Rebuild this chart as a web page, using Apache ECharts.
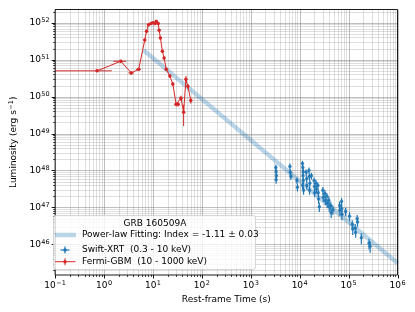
<!DOCTYPE html>
<html><head><meta charset="utf-8">
<script src="https://cdn.jsdelivr.net/npm/echarts@6/dist/echarts.min.js"></script>
<style>html,body{margin:0;padding:0;background:#fff}#c{width:415px;height:312px}</style>
</head><body><div id="c"></div>
<script>
// ---- axis ticks (log10 units) ----
const xMajorTicks = [-1, 0, 1, 2, 3, 4, 5, 6];
const yMajorTicks = [46, 47, 48, 49, 50, 51, 52];
const minorMultipliers = [2, 3, 4, 5, 6, 7, 8, 9];

// ---- Fermi-GBM (10 - 1000 keV) ----
const gbmT    = [0.72, 2.2, 3.6, 5.1, 6.8, 7.4, 8.1, 9.1, 10.0, 11.0, 11.7, 12.8, 13.4, 14.2, 15.6, 16.9, 18.7, 22.2, 25.5, 29.8, 32.7, 37.4, 42.4, 47.2, 51.8, 59.4];
const gbmTErr = [0.72, 0.65, 0.45, 0.6, 0.3, 0.3, 0.3, 0.3, 0.4, 0.4, 0.4, 0.4, 0.4, 0.4, 0.5, 0.6, 0.8, 1.2, 1.3, 2.5, 2.5, 2.5, 2.5, 2.0, 2.0, 2.5];
const gbmL    = [5.0e50, 9.1e50, 4.4e50, 5.5e50, 3.4e51, 5.9e51, 8.9e51, 9.5e51, 1.0e52, 9.5e51, 1.1e52, 9.5e51, 6.3e51, 3.9e51, 1.7e51, 1.12e51, 5.5e50, 3.6e50, 2.2e50, 6.2e49, 6.2e49, 9.1e49, 3.8e49, 2.95e50, 1.9e50, 7.9e49];
const gbmLErr = [0.4e50, 0.9e50, 0.5e50, 0.5e50, 0.3e51, 0.4e51, 0.5e51, 0.5e51, 0.5e51, 0.5e51, 0.6e51, 0.5e51, 0.4e51, 0.3e51, 0.15e51, 0.1e51, 0.6e50, 0.4e50, 0.3e50, 0.8e49, 0.8e49, 1.5e49, 2.2e49, 0.7e50, 0.3e50, 1.4e49];

// ---- Swift-XRT (0.3 - 10 keV) ----
const xrtT = [3250, 3300, 3350, 3300, 6300, 6450, 6600, 8800, 9000,
  11400, 11600, 11800, 11700, 11900, 11500, 12000, 13600, 13900, 14000,
  15500, 15800, 16100, 15900, 17400, 19700, 20000, 20200, 21600, 22000,
  23600, 24000, 24300, 25200, 29800, 30400, 32800, 33400, 36000, 36600,
  39500, 40200, 43300, 44000, 47800, 65500, 66500, 71800, 72500, 73200,
  87000, 104500, 119000, 121500, 137000, 139500, 150000, 152500, 182000, 262000, 276000];
const xrtTErr = [130, 130, 130, 130, 250, 260, 260, 350, 360,
  450, 460, 470, 470, 480, 460, 480, 540, 560, 560,
  620, 630, 640, 640, 700, 790, 800, 810, 860, 880,
  940, 960, 970, 1000, 1190, 1220, 1310, 1340, 1440, 1460,
  1580, 1610, 1730, 1760, 1910, 2600, 2660, 2870, 2900, 2930,
  3500, 4200, 4800, 4900, 5500, 5600, 6000, 6100, 7300, 10500, 11000];
const xrtL = [1.20e48, 9.3e47, 7.2e47, 5.6e47, 1.29e48, 8.9e47, 6.9e47, 5.4e47, 3.5e47,
  1.55e48, 1.2e48, 9.3e47, 7.2e47, 5.4e47, 3.9e47, 2.9e47, 8.9e47, 6.0e47, 3.9e47,
  1.0e48, 6.9e47, 4.5e47, 2.9e47, 7.2e47, 5.4e47, 3.7e47, 2.5e47, 4.5e47, 3.1e47,
  3.9e47, 2.5e47, 1.7e47, 1.05e47, 2.9e47, 1.9e47, 2.4e47, 1.55e47, 2.0e47, 1.3e47,
  1.55e47, 1.05e47, 1.12e47, 7.2e46, 8.7e46, 1.12e47, 8.3e46, 1.45e47, 9.3e46, 6.5e46,
  7.8e46, 5.8e46, 3.5e46, 2.6e46, 2.75e46, 2.1e46, 5.0e46, 4.0e46, 1.5e46, 1.07e46, 8.9e45];
const xrtLErr = [2.4e47, 1.9e47, 1.5e47, 1.2e47, 2.6e47, 1.8e47, 1.4e47, 1.1e47, 0.8e47,
  3.0e47, 2.4e47, 1.9e47, 1.5e47, 1.1e47, 0.8e47, 0.7e47, 1.8e47, 1.3e47, 0.9e47,
  2.0e47, 1.4e47, 1.0e47, 0.7e47, 1.5e47, 1.1e47, 0.8e47, 0.6e47, 1.0e47, 0.7e47,
  0.8e47, 0.6e47, 0.45e47, 0.3e47, 0.7e47, 0.5e47, 0.55e47, 0.4e47, 0.45e47, 0.35e47,
  0.4e47, 0.3e47, 0.3e47, 0.2e47, 0.25e47, 0.3e47, 0.25e47, 0.35e47, 0.25e47, 0.2e47,
  0.2e47, 1.6e46, 1.0e46, 0.8e46, 0.8e46, 0.6e46, 1.2e46, 1.0e46, 0.5e46, 0.35e46, 0.3e46];

// ---- power-law fit ----
const fitT = [6.4, 1.0e6];
const fitL = [1.82e51, 3.1e45];

const X_MIN = -1, X_MAX = 6, Y_MIN = 45.17, Y_MAX = 52.36;
const lg = Math.log10;
const FONT = '"DejaVu Sans", sans-serif';

function safeLg(v) { return v > 0 ? lg(v) : -20; }
function errData(T, TE, L, LE) {
  return T.map((t, i) => [lg(t), lg(L[i]), safeLg(t - TE[i]), lg(t + TE[i]), safeLg(L[i] - LE[i]), lg(L[i] + LE[i])]);
}

// grid lines + ticks
const gridItems = [];
xMajorTicks.forEach(v => gridItems.push([v, Y_MIN, 0, 1]));
for (let d = X_MIN; d < X_MAX; d++) minorMultipliers.forEach(m => gridItems.push([d + lg(m), Y_MIN, 0, 0]));
yMajorTicks.forEach(v => gridItems.push([X_MIN, v, 1, 1]));
for (let d = 45; d < 53; d++) minorMultipliers.forEach(m => { const v = d + lg(m); if (v > Y_MIN && v < Y_MAX) gridItems.push([X_MIN, v, 1, 0]); });

function renderGrid(params, api) {
  const cs = params.coordSys;
  const kind = api.value(2), major = api.value(3);
  let shape, tick;
  if (kind === 0) {
    const px = Math.round(api.coord([api.value(0), Y_MIN])[0]) + 0.5;
    const yb = cs.y + cs.height;
    shape = { x1: px, y1: cs.y, x2: px, y2: yb };
    tick = { x1: px, y1: yb, x2: px, y2: yb + (major ? 3.5 : 2) };
  } else {
    const py = Math.round(api.coord([X_MIN, api.value(1)])[1]) + 0.5;
    shape = { x1: cs.x, y1: py, x2: cs.x + cs.width, y2: py };
    tick = { x1: cs.x - (major ? 3.5 : 2), y1: py, x2: cs.x, y2: py };
  }
  return { type: 'group', children: [
    { type: 'line', shape: shape, style: { stroke: major ? 'rgba(128,128,128,0.5)' : 'rgba(128,128,128,0.32)', lineWidth: major ? 1 : 0.8 } },
    { type: 'line', shape: tick, style: { stroke: '#000', lineWidth: major ? 0.9 : 0.7 } }
  ] };
}

function renderErr(color, lw) {
  return function (params, api) {
    const c = api.coord([api.value(0), api.value(1)]);
    const xl = api.coord([api.value(2), api.value(1)]), xh = api.coord([api.value(3), api.value(1)]);
    const yl = api.coord([api.value(0), api.value(4)]), yh = api.coord([api.value(0), api.value(5)]);
    return { type: 'group', children: [
      { type: 'line', shape: { x1: xl[0], y1: c[1], x2: xh[0], y2: c[1] }, style: { stroke: color, lineWidth: lw } },
      { type: 'line', shape: { x1: c[0], y1: yl[1], x2: c[0], y2: yh[1] }, style: { stroke: color, lineWidth: lw } }
    ] };
  };
}

function supLabel(v) {
  const e = v < 0 ? '\u2212' + (-v) : String(v);
  return '{b|10}{s|' + e + '}';
}
const rich = {
  b: { fontSize: 9, fontFamily: FONT, color: '#000', lineHeight: 12, verticalAlign: 'middle' },
  s: { fontSize: 6.5, fontFamily: FONT, color: '#000', lineHeight: 6, verticalAlign: 'top', padding: [0, 0, 0, 0.5] }
};

const BLUE = '#1f77b4', RED = '#d62728';
const chart = echarts.init(document.getElementById('c'));
chart.setOption({
  animation: false,
  backgroundColor: '#fff',
  grid: { left: 49, top: 9.5, right: 17.5, bottom: 37, show: true, borderColor: '#000', borderWidth: 0.9, backgroundColor: 'transparent', z: 10 },
  xAxis: {
    type: 'value', min: X_MIN, max: X_MAX, interval: 1,
    name: 'Rest-frame Time (s)', nameLocation: 'middle', nameGap: 18,
    nameTextStyle: { fontSize: 9, fontFamily: FONT, color: '#000' },
    axisLine: { show: false }, axisTick: { show: false }, splitLine: { show: false },
    axisLabel: { margin: 5, formatter: supLabel, rich: rich }
  },
  yAxis: {
    type: 'value', min: Y_MIN, max: Y_MAX,
    name: '{b|Luminosity (erg s}{s|\u22121}{b|)}', nameLocation: 'middle', nameGap: 31,
    nameTextStyle: { rich: rich },
    axisLine: { show: false }, axisTick: { show: false }, splitLine: { show: false },
    axisLabel: { margin: 5.5, customValues: yMajorTicks, formatter: supLabel, rich: rich }
  },
  series: [
    { type: 'custom', name: 'grid', renderItem: renderGrid, data: gridItems, clip: false, silent: true, z: 1 },
    { type: 'line', name: 'Power-law Fitting', data: fitT.map((t, i) => [lg(t), lg(fitL[i])]), symbol: 'none',
      lineStyle: { color: BLUE, opacity: 0.3, width: 4.5 }, z: 2 },
    { type: 'custom', name: 'xrtErr', renderItem: renderErr(BLUE, 1.2), data: errData(xrtT, xrtTErr, xrtL, xrtLErr), clip: true, z: 3 },
    { type: 'scatter', name: 'Swift-XRT', data: xrtT.map((t, i) => [lg(t), lg(xrtL[i])]), symbol: 'circle', symbolSize: 3.5,
      itemStyle: { color: BLUE }, z: 4 },
    { type: 'custom', name: 'gbmErr', renderItem: renderErr(RED, 1), data: errData(gbmT, gbmTErr, gbmL, gbmLErr), clip: true, z: 5 },
    { type: 'line', name: 'Fermi-GBM', data: gbmT.map((t, i) => [lg(t), lg(gbmL[i])]), symbol: 'circle', symbolSize: 3.5, showSymbol: true,
      lineStyle: { color: RED, width: 1 }, itemStyle: { color: RED }, z: 6 }
  ],
  graphic: [
    { type: 'rect', z: 100, shape: { x: 53.5, y: 215.5, width: 202, height: 54, r: 2.5 },
      style: { fill: 'rgba(255,255,255,0.8)', stroke: '#cccccc', lineWidth: 0.8 } },
    { type: 'text', z: 101, x: 155, y: 224, style: { text: 'GRB 160509A', font: '9px ' + FONT, fill: '#000', align: 'center', verticalAlign: 'middle' } },
    { type: 'line', z: 101, shape: { x1: 55, y1: 235, x2: 76, y2: 235 }, style: { stroke: 'rgba(31,119,180,0.3)', lineWidth: 4.5 } },
    { type: 'text', z: 101, x: 82, y: 235, style: { text: 'Power-law Fitting: Index = -1.11 \u00b1 0.03', font: '9px ' + FONT, fill: '#000', align: 'left', verticalAlign: 'middle' } },
    { type: 'line', z: 101, shape: { x1: 60.5, y1: 250, x2: 69.5, y2: 250 }, style: { stroke: BLUE, lineWidth: 1.2 } },
    { type: 'line', z: 101, shape: { x1: 65, y1: 246.5, x2: 65, y2: 253.5 }, style: { stroke: BLUE, lineWidth: 1.2 } },
    { type: 'circle', z: 101, shape: { cx: 65, cy: 250, r: 1.7 }, style: { fill: BLUE } },
    { type: 'text', z: 101, x: 82, y: 250, style: { text: 'Swift-XRT  (0.3 - 10 keV)', font: '9px ' + FONT, fill: '#000', align: 'left', verticalAlign: 'middle' } },
    { type: 'line', z: 101, shape: { x1: 55, y1: 261.7, x2: 75.5, y2: 261.7 }, style: { stroke: RED, lineWidth: 1 } },
    { type: 'line', z: 101, shape: { x1: 65, y1: 258.2, x2: 65, y2: 265.2 }, style: { stroke: RED, lineWidth: 1 } },
    { type: 'circle', z: 101, shape: { cx: 65, cy: 261.7, r: 1.7 }, style: { fill: RED } },
    { type: 'text', z: 101, x: 82, y: 261.7, style: { text: 'Fermi-GBM  (10 - 1000 keV)', font: '9px ' + FONT, fill: '#000', align: 'left', verticalAlign: 'middle' } }
  ]
});
</script>
</body></html>
